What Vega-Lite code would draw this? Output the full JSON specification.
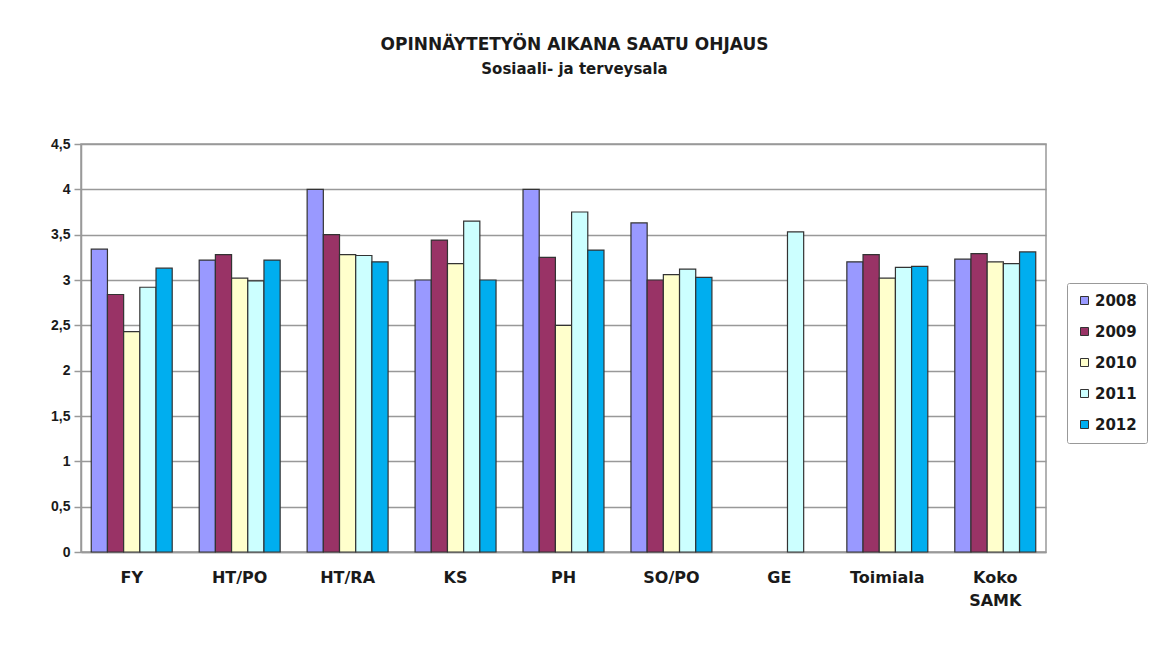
{
  "$schema": "https://vega.github.io/schema/vega-lite/v6.json",
  "autosize": "none",
  "width": 965,
  "height": 408,
  "padding": {"left": 81, "top": 144, "right": 105, "bottom": 96},
  "background": "white",
  "title": {
    "text": "OPINNÄYTETYÖN AIKANA SAATU OHJAUS",
    "subtitle": "Sosiaali- ja terveysala",
    "font": "DejaVu Sans",
    "fontSize": 17,
    "fontWeight": "bold",
    "color": "#1a1a1a",
    "subtitleFont": "DejaVu Sans",
    "subtitleFontSize": 15,
    "subtitleFontWeight": "bold",
    "subtitleColor": "#1a1a1a",
    "subtitlePadding": 8,
    "offset": 59,
    "anchor": "middle",
    "dx": 11
  },
  "data": {
    "values": [
      {"ala": "FY", "vuosi": "2008", "arvo": 3.34},
      {"ala": "FY", "vuosi": "2009", "arvo": 2.84},
      {"ala": "FY", "vuosi": "2010", "arvo": 2.43},
      {"ala": "FY", "vuosi": "2011", "arvo": 2.92},
      {"ala": "FY", "vuosi": "2012", "arvo": 3.13},
      {"ala": "HT/PO", "vuosi": "2008", "arvo": 3.22},
      {"ala": "HT/PO", "vuosi": "2009", "arvo": 3.28},
      {"ala": "HT/PO", "vuosi": "2010", "arvo": 3.02},
      {"ala": "HT/PO", "vuosi": "2011", "arvo": 2.99},
      {"ala": "HT/PO", "vuosi": "2012", "arvo": 3.22},
      {"ala": "HT/RA", "vuosi": "2008", "arvo": 4.0},
      {"ala": "HT/RA", "vuosi": "2009", "arvo": 3.5},
      {"ala": "HT/RA", "vuosi": "2010", "arvo": 3.28},
      {"ala": "HT/RA", "vuosi": "2011", "arvo": 3.27},
      {"ala": "HT/RA", "vuosi": "2012", "arvo": 3.2},
      {"ala": "KS", "vuosi": "2008", "arvo": 3.0},
      {"ala": "KS", "vuosi": "2009", "arvo": 3.44},
      {"ala": "KS", "vuosi": "2010", "arvo": 3.18},
      {"ala": "KS", "vuosi": "2011", "arvo": 3.65},
      {"ala": "KS", "vuosi": "2012", "arvo": 3.0},
      {"ala": "PH", "vuosi": "2008", "arvo": 4.0},
      {"ala": "PH", "vuosi": "2009", "arvo": 3.25},
      {"ala": "PH", "vuosi": "2010", "arvo": 2.5},
      {"ala": "PH", "vuosi": "2011", "arvo": 3.75},
      {"ala": "PH", "vuosi": "2012", "arvo": 3.33},
      {"ala": "SO/PO", "vuosi": "2008", "arvo": 3.63},
      {"ala": "SO/PO", "vuosi": "2009", "arvo": 3.0},
      {"ala": "SO/PO", "vuosi": "2010", "arvo": 3.06},
      {"ala": "SO/PO", "vuosi": "2011", "arvo": 3.12},
      {"ala": "SO/PO", "vuosi": "2012", "arvo": 3.03},
      {"ala": "GE", "vuosi": "2011", "arvo": 3.53},
      {"ala": "Toimiala", "vuosi": "2008", "arvo": 3.2},
      {"ala": "Toimiala", "vuosi": "2009", "arvo": 3.28},
      {"ala": "Toimiala", "vuosi": "2010", "arvo": 3.02},
      {"ala": "Toimiala", "vuosi": "2011", "arvo": 3.14},
      {"ala": "Toimiala", "vuosi": "2012", "arvo": 3.15},
      {"ala": "Koko SAMK", "vuosi": "2008", "arvo": 3.23},
      {"ala": "Koko SAMK", "vuosi": "2009", "arvo": 3.29},
      {"ala": "Koko SAMK", "vuosi": "2010", "arvo": 3.2},
      {"ala": "Koko SAMK", "vuosi": "2011", "arvo": 3.18},
      {"ala": "Koko SAMK", "vuosi": "2012", "arvo": 3.31}
    ]
  },
  "mark": {"type": "bar", "stroke": "#333", "strokeWidth": 1.2},
  "encoding": {
    "x": {
      "field": "ala",
      "type": "nominal",
      "sort": ["FY", "HT/PO", "HT/RA", "KS", "PH", "SO/PO", "GE", "Toimiala", "Koko SAMK"],
      "scale": {"paddingInner": 0.25, "paddingOuter": 0.095},
      "axis": {
        "title": null,
        "labelAngle": 0,
        "labelFont": "DejaVu Sans",
        "labelFontSize": 16,
        "labelFontWeight": "bold",
        "labelColor": "#1a1a1a",
        "labelPadding": 17,
        "labelLineHeight": 23,
        "labelExpr": "datum.label == 'Koko SAMK' ? ['Koko', 'SAMK'] : datum.label",
        "ticks": false,
        "domainColor": "#999",
        "domainWidth": 1.5,
        "grid": false
      }
    },
    "xOffset": {"field": "vuosi", "type": "nominal", "scale": {"domain": ["2008", "2009", "2010", "2011", "2012"]}},
    "y": {
      "field": "arvo",
      "type": "quantitative",
      "scale": {"domain": [0, 4.5], "nice": false},
      "axis": {
        "title": null,
        "values": [0, 0.5, 1, 1.5, 2, 2.5, 3, 3.5, 4, 4.5],
        "labelExpr": "replace(toString(datum.value), '.', ',')",
        "labelFont": "Liberation Sans",
        "labelFontSize": 14,
        "labelFontWeight": "bold",
        "labelColor": "#1a1a1a",
        "labelPadding": 4,
        "tickColor": "#999",
        "tickWidth": 1.5,
        "tickSize": 7,
        "domainColor": "#999",
        "domainWidth": 1.5,
        "gridColor": "#999",
        "gridWidth": 1.5
      }
    },
    "color": {
      "field": "vuosi",
      "type": "nominal",
      "scale": {
        "domain": ["2008", "2009", "2010", "2011", "2012"],
        "range": ["#9999FF", "#993366", "#FFFFCC", "#CCFFFF", "#00AEEF"]
      },
      "legend": {
        "title": null,
        "orient": "none",
        "legendX": 986,
        "legendY": 139,
        "symbolType": "square",
        "symbolSize": 64,
        "symbolStrokeColor": "#333",
        "symbolStrokeWidth": 1,
        "labelFont": "DejaVu Sans",
        "labelFontSize": 15,
        "labelFontWeight": "bold",
        "labelColor": "#1a1a1a",
        "labelOffset": 3,
        "rowPadding": 15,
        "padding": 10,
        "strokeColor": "#999",
        "fillColor": "white",
        "cornerRadius": 2
      }
    }
  },
  "config": {
    "view": {"stroke": "#999", "strokeWidth": 1.5}
  }
}
